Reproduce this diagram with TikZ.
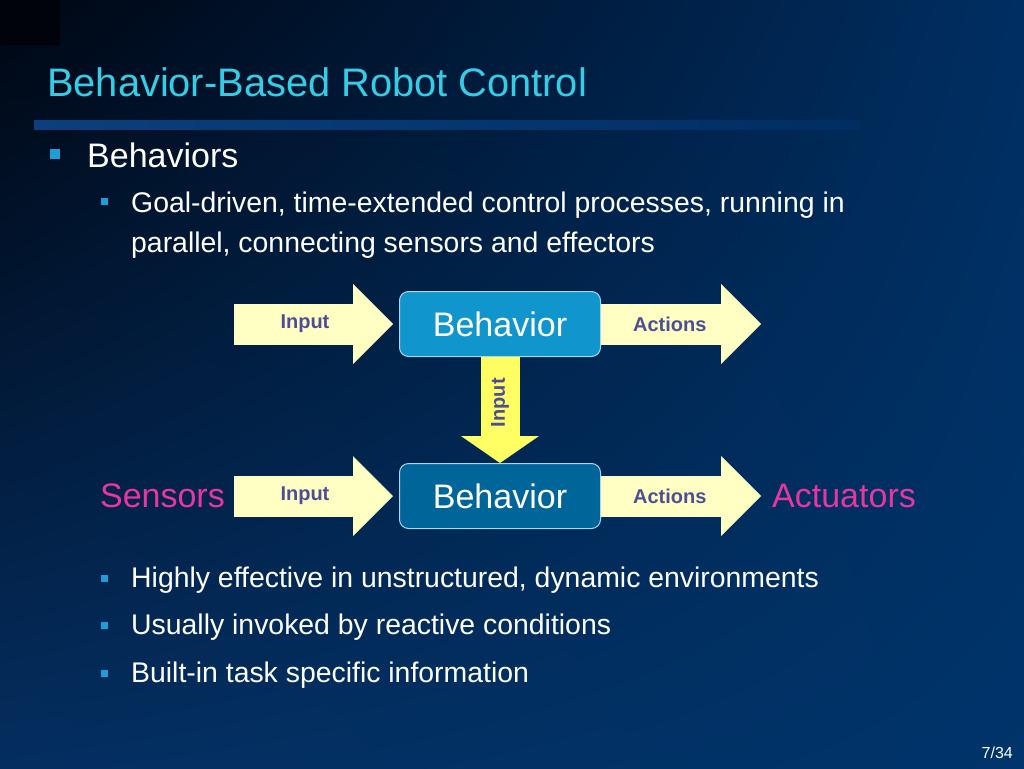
\documentclass[tikz,border=0pt]{standalone}
\usepackage{fontspec}
\setmainfont{Liberation Sans}
\usetikzlibrary{positioning,arrows.meta,shadings}

\definecolor{bgdark}{RGB}{0,6,18}
\definecolor{bgtopright}{RGB}{0,46,98}
\definecolor{bgbotleft}{RGB}{4,46,96}
\definecolor{bgnavy}{RGB}{0,52,106}
\definecolor{cornerdark}{RGB}{0,3,12}
\definecolor{barblue}{RGB}{10,64,125}
\definecolor{titlecyan}{RGB}{51,206,230}
\definecolor{bulletblue}{RGB}{30,158,216}
\definecolor{topbox}{RGB}{16,150,204}
\definecolor{lowbox}{RGB}{0,102,153}
\definecolor{boxline}{RGB}{170,215,235}
\definecolor{flowyellow}{RGB}{255,255,196}
\definecolor{linkyellow}{RGB}{255,255,100}
\definecolor{labelblue}{RGB}{78,78,150}
\definecolor{endmagenta}{RGB}{232,54,160}

\begin{document}
\begin{tikzpicture}
        [x=1pt,y=-1pt,every node/.style={inner sep=0pt},
         slidetext/.style={anchor=base west,text=white,font=\fontsize{28.4}{40}\selectfont},
         behavior/.style={draw=boxline,line width=1pt,rounded corners=9pt,
           minimum width=201pt,minimum height=65pt,text=white,font=\fontsize{34}{40}\selectfont},
         flow/.style={draw=flowyellow,line width=41pt,
           -{Triangle[length=40pt,width=80pt,line width=0pt]}},
         flowlabel/.style={text=labelblue,font=\bfseries\fontsize{20}{22}\selectfont},
         endpoint/.style={text=endmagenta,font=\fontsize{34}{40}\selectfont}]
        \useasboundingbox (0,0) rectangle (1024,768);
        \shade[upper left=bgdark,upper right=bgtopright,lower left=bgbotleft,lower right=bgnavy]
            (0,0) rectangle (1024,768);
        \fill[cornerdark] (0,0) rectangle (60,45);

        % title and bar
        \node[anchor=base west,text=titlecyan,font=\fontsize{39.8}{48}\selectfont] (title) at (47,96)
            {Behavior-Based Robot Control};
        \shade[left color=barblue,right color=bgtopright] (34,120) rectangle (860,129);

        % bullets above the diagram
        \fill[bulletblue] (50,149) rectangle (60,159);
        \node[slidetext,font=\fontsize{34}{40}\selectfont] (behaviors) at (87,167) {Behaviors};
        \fill[bulletblue] (101,198) rectangle (108,205);
        \node[slidetext,align=left] (goal) at (131,252)
            {Goal-driven, time-extended control processes, running in\\
             parallel, connecting sensors and effectors};

        % diagram
        \node[behavior,fill=topbox] (beh1) at (500,324) {Behavior};
        \node[behavior,fill=lowbox,below=106pt of beh1] (beh2) {Behavior};

        \coordinate[left=165pt of beh1.west] (src1);
        \coordinate[right=160pt of beh1.east] (dst1);
        \coordinate[left=165pt of beh2.west] (src2);
        \coordinate[right=160pt of beh2.east] (dst2);

        \draw[flow,shorten >=6pt] (src1) -- node[flowlabel,pos=0.43] {Input} (beh1.west);
        \draw[flow] (beh1.east) -- node[flowlabel,pos=0.43] {Actions} (dst1);
        \draw[flow,shorten >=6pt] (src2) -- node[flowlabel,pos=0.43] {Input} (beh2.west);
        \draw[flow] (beh2.east) -- node[flowlabel,pos=0.43] {Actions} (dst2);
        \draw[draw=linkyellow,line width=39pt,-{Triangle[length=27pt,width=78pt,line width=0pt]}]
            (beh1.south) -- node[flowlabel,rotate=90,pos=0.43] {Input} (beh2.north);

        \node[endpoint,left=9pt of src2] (sensors) {Sensors};
        \node[endpoint,right=11pt of dst2] (actuators) {Actuators};

        % bullets below the diagram
        \foreach \txt/\yy in {{Highly effective in unstructured, dynamic environments}/587,
                              {Usually invoked by reactive conditions}/634,
                              {Built-in task specific information}/682}
        {
            \fill[bulletblue] (101,\yy-12) rectangle (108,\yy-5);
            \node[slidetext] at (131,\yy) {\txt};
        }

        \node[anchor=base east,text=white,font=\fontsize{16}{18}\selectfont] (page) at (1013,758) {7/34};
      \end{tikzpicture}
\end{document}
